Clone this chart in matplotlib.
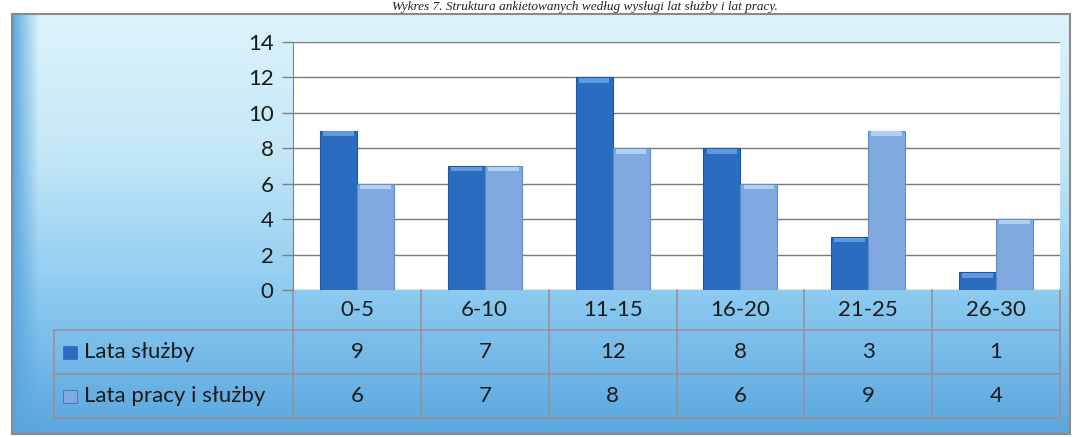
import matplotlib
matplotlib.use('Agg')
import matplotlib.pyplot as plt
import numpy as np
from matplotlib.colors import LinearSegmentedColormap
from matplotlib.patches import Rectangle
import matplotlib.transforms as mtransforms

# data
categories = ['0-5', '6-10', '11-15', '16-20', '21-25', '26-30']
series_names = ['Lata służby', 'Lata pracy i służby']
lata_sluzby = [9, 7, 12, 8, 3, 1]
lata_pracy_i_sluzby = [6, 7, 8, 6, 9, 4]
yticks = [0, 2, 4, 6, 8, 10, 12, 14]
caption = 'Wykres 7. Struktura ankietowanych według wysługi lat służby i lat pracy.'

plt.rcParams['font.family'] = ['Lato', 'DejaVu Sans']
FS = 16

W, H = 1076, 437
fig = plt.figure(figsize=(W / 100, H / 100), dpi=100)
fig.patch.set_facecolor('white')

# gradient background of the chart frame
bg = fig.add_axes([12 / W, 1 - 434 / H, (1070 - 12) / W, (434 - 14) / H])
cmap = LinearSegmentedColormap.from_list('bg', ['#dcf3fb', '#c4e7f7', '#8ccaf0', '#5aa6de'])
grad = np.linspace(0, 1, 256).reshape(-1, 1) * np.ones((1, 64))
bg.imshow(grad, aspect='auto', cmap=cmap, extent=[0, 1, 0, 1], origin='upper')
edge = LinearSegmentedColormap.from_list('edge', ['#5aa6de', '#5aa6de00'])
bg.imshow(np.linspace(0, 1, 64).reshape(1, -1), aspect='auto', cmap=edge,
          extent=[0, 0.025, 0, 1])
bg.set_xlim(0, 1)
bg.set_ylim(0, 1)
bg.set_xticks([])
bg.set_yticks([])
for s in bg.spines.values():
    s.set_color('#8a8a8a')
    s.set_linewidth(1.5)

# caption above the frame
fig.text(778 / W, 1 - 1 / H, caption, ha='right', va='top', fontsize=9.5,
         style='italic', family='Liberation Serif', color='#222222')

x0, x1, y0, y1 = 293, 1060, 42, 290
ax = fig.add_axes([x0 / W, 1 - y1 / H, (x1 - x0) / W, (y1 - y0) / H])
ax.set_facecolor('white')

x = np.arange(len(categories))
bw = 0.29
dark, light = '#2a6cc0', '#80a9df'
b1 = ax.bar(x - bw / 2, lata_sluzby, bw, color=dark, edgecolor='#1d58a3', linewidth=0.8, zorder=3)
b2 = ax.bar(x + bw / 2, lata_pracy_i_sluzby, bw, color=light, edgecolor='#5f8bc8', linewidth=0.8, zorder=3)
# light bevel on top of each bar
for bars, cap in ((b1, '#5f9ae0'), (b2, '#b3d0f2')):
    for r in bars:
        ax.add_patch(Rectangle((r.get_x() + 0.025, r.get_height() - 0.3), r.get_width() - 0.05, 0.25,
                               color=cap, zorder=4, linewidth=0))

ax.set_xlim(-0.5, len(categories) - 0.5)
ax.set_ylim(0, 14)
ax.set_yticks(yticks)
ax.set_yticklabels([str(t) for t in yticks], fontsize=FS, color='#1a1a1a')
ax.set_xticks([])
ax.tick_params(axis='y', length=8, width=1, color='#808080', pad=6)
ax.grid(axis='y', color='#7a7a7a', linewidth=1, zorder=1)
for side in ('top', 'right', 'bottom'):
    ax.spines[side].set_visible(False)
ax.spines['left'].set_color('#808080')

# data table under the plot
tr = mtransforms.blended_transform_factory(ax.transData, ax.transAxes)
hpx = y1 - y0
wpx = x1 - x0
def fy(py):
    return (y1 - py) / hpx
row_y = [290, 330, 374, 418]
lab_left = (54 - x0) / wpx
line_kw = dict(color='#9c8c94', linewidth=1.1, clip_on=False)

for yy in row_y[1:]:
    ax.plot([lab_left, 1], [fy(yy)] * 2, transform=ax.transAxes, **line_kw)
for i in range(len(categories) + 1):
    ax.plot([i - 0.5] * 2, [fy(290), fy(418)], transform=tr, **line_kw)
ax.plot([lab_left] * 2, [fy(330), fy(418)], transform=ax.transAxes, **line_kw)

rows = [lata_sluzby, lata_pracy_i_sluzby]
colors = [dark, light]
for i, c in enumerate(categories):
    ax.text(i, fy((row_y[0] + row_y[1]) / 2), c, transform=tr, ha='center', va='center',
            fontsize=FS, color='#1a1a1a')
    for r, vals in enumerate(rows):
        ax.text(i, fy((row_y[r + 1] + row_y[r + 2]) / 2), str(vals[i]), transform=tr,
                ha='center', va='center', fontsize=FS, color='#1a1a1a')
for r, name in enumerate(series_names):
    yc = fy((row_y[r + 1] + row_y[r + 2]) / 2)
    ax.add_patch(Rectangle(((63 - x0) / wpx, yc - 6.5 / hpx), 14 / wpx, 13 / hpx,
                           transform=ax.transAxes, facecolor=colors[r], edgecolor='#3f6fb0',
                           linewidth=0.6, clip_on=False))
    ax.text((84 - x0) / wpx, yc, name, transform=ax.transAxes, ha='left', va='center',
            fontsize=FS, color='#1a1a1a')

fig.savefig('out.png', dpi=100)
